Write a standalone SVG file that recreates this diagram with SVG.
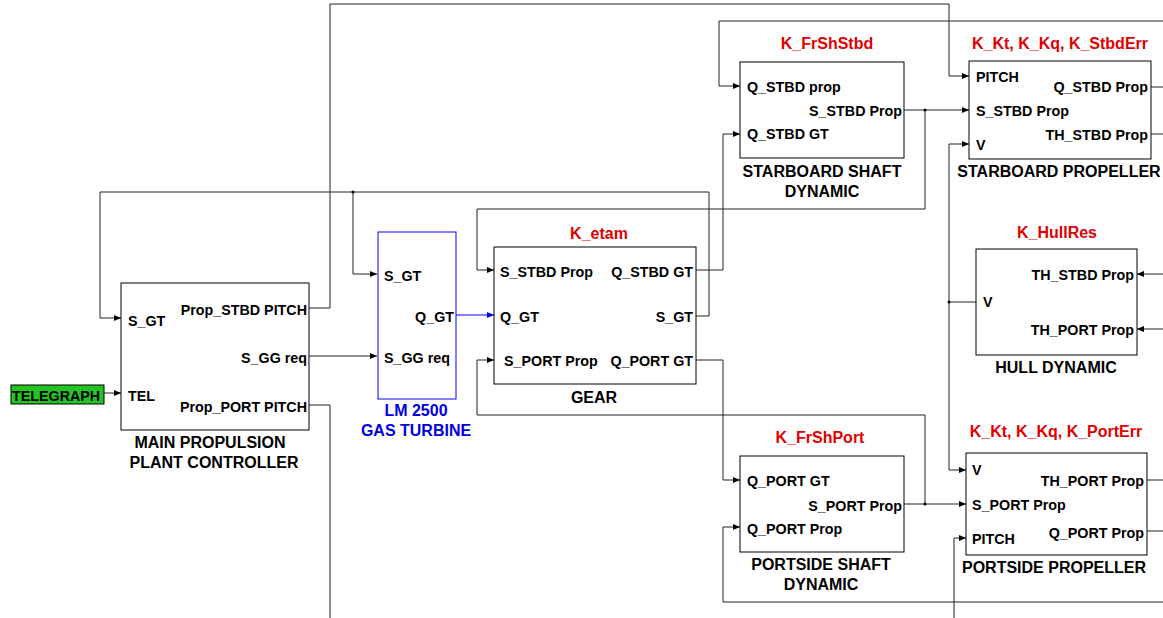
<svg xmlns="http://www.w3.org/2000/svg" width="1163" height="618" viewBox="0 0 1163 618">
<style>
text{font-family:"Liberation Sans",Arial,sans-serif;font-weight:bold;fill:#000}
.p{font-size:14.3px}
.r{text-anchor:end}
.t{font-size:16px;text-anchor:middle}
.k{font-size:16px;text-anchor:middle;fill:#e00000}
.b{fill:#0000e0}
.box{fill:#fff;stroke:#000;stroke-width:1}
.w{fill:none;stroke:#222;stroke-width:1}
</style>
<defs>
<marker id="a" markerUnits="userSpaceOnUse" markerWidth="7" markerHeight="6" refX="7" refY="3" orient="auto"><path d="M0,0 L7,3 L0,6 z" fill="#000"/></marker>
<marker id="ab" markerUnits="userSpaceOnUse" markerWidth="7" markerHeight="6" refX="7" refY="3" orient="auto"><path d="M0,0 L7,3 L0,6 z" fill="#00f"/></marker>
</defs>
<g id="connectors">
<path class="w" d="M309,308 H330 V4 H949 V76 H969" marker-end="url(#a)"/>
<path class="w" d="M1163,21 H719 V86 H740" marker-end="url(#a)"/>
<path class="w" d="M309,405 H330 V618"/>
<path class="w" d="M954,618 V538 H966" marker-end="url(#a)"/>
<path class="w" d="M309,356 H377" marker-end="url(#a)"/>
<path class="w" d="M696,316 H709 V192 H100 V318 H121" marker-end="url(#a)"/>
<path class="w" d="M353,192 V274 H377" marker-end="url(#a)"/>
<circle cx="353" cy="192" r="1.5" fill="#000"/>
<path fill="none" stroke="#00f" stroke-width="1" d="M456,315 H494" marker-end="url(#ab)"/>
<path class="w" d="M904,110 H969" marker-end="url(#a)"/>
<path class="w" d="M925,110 V209 H477 V270 H494" marker-end="url(#a)"/>
<circle cx="925" cy="110" r="1.5" fill="#000"/>
<path class="w" d="M696,270 H723 V134 H740" marker-end="url(#a)"/>
<path class="w" d="M696,360 H723 V480 H740" marker-end="url(#a)"/>
<path class="w" d="M904,504 H966" marker-end="url(#a)"/>
<path class="w" d="M925,504 V415 H477 V360 H494" marker-end="url(#a)"/>
<circle cx="925" cy="504" r="1.5" fill="#000"/>
<path class="w" d="M949,302 V144 H969" marker-end="url(#a)"/>
<path class="w" d="M949,302 V470 H966" marker-end="url(#a)"/>
<path class="w" d="M949,302 H976"/>
<circle cx="949" cy="302" r="1.5" fill="#000"/>
<path class="w" d="M1163,602 H723 V527 H740" marker-end="url(#a)"/>
<path class="w" d="M1163,274 H1137" marker-end="url(#a)"/>
<path class="w" d="M1163,329 H1137" marker-end="url(#a)"/>
<path class="w" d="M1151,87 H1163"/>
<path class="w" d="M1151,134 H1163"/>
<path class="w" d="M1147,480 H1163"/>
<path class="w" d="M1147,531 H1163"/>
<path class="w" d="M104,393 H121" marker-end="url(#a)"/>
</g>
<g id="telegraph">
<rect x="11" y="385" width="93" height="19" fill="#22c422" stroke="#000" stroke-width="1"/>
<text class="p" x="12" y="401">TELEGRAPH</text>
</g>
<g id="mppc">
<rect class="box" x="121" y="283" width="188" height="147"/>
<text class="p" x="128" y="326">S_GT</text>
<text class="p" x="128" y="401">TEL</text>
<text class="p r" x="307" y="315">Prop_STBD PITCH</text>
<text class="p r" x="307" y="363">S_GG req</text>
<text class="p r" x="307" y="412">Prop_PORT PITCH</text>
<text class="t" x="210" y="448">MAIN PROPULSION</text>
<text class="t" x="214" y="468">PLANT CONTROLLER</text>
</g>
<g id="lm2500">
<rect x="378" y="232" width="78" height="167" fill="#fff" stroke="#0000ff" stroke-width="1"/>
<text class="p" x="384" y="281">S_GT</text>
<text class="p r" x="454" y="322">Q_GT</text>
<text class="p" x="384" y="363">S_GG req</text>
<text class="t b" x="416" y="416">LM 2500</text>
<text class="t b" x="416" y="436">GAS TURBINE</text>
</g>
<g id="gear">
<rect class="box" x="494" y="247" width="202" height="137"/>
<text class="k" x="599" y="239">K_etam</text>
<text class="p" x="500" y="277">S_STBD Prop</text>
<text class="p" x="500" y="322">Q_GT</text>
<text class="p" x="504" y="366">S_PORT Prop</text>
<text class="p r" x="693" y="277">Q_STBD GT</text>
<text class="p r" x="693" y="322">S_GT</text>
<text class="p r" x="693" y="366">Q_PORT GT</text>
<text class="t" x="594" y="403">GEAR</text>
</g>
<g id="stbd-shaft">
<rect class="box" x="740" y="62" width="164" height="96"/>
<text class="k" x="827" y="49">K_FrShStbd</text>
<text class="p" x="747" y="92">Q_STBD prop</text>
<text class="p r" x="902" y="116">S_STBD Prop</text>
<text class="p" x="747" y="139">Q_STBD GT</text>
<text class="t" x="822" y="177">STARBOARD SHAFT</text>
<text class="t" x="822" y="197">DYNAMIC</text>
</g>
<g id="stbd-prop">
<rect class="box" x="969" y="61" width="182" height="98"/>
<text class="k" x="1060" y="49">K_Kt, K_Kq, K_StbdErr</text>
<text class="p" x="976" y="82">PITCH</text>
<text class="p" x="976" y="116">S_STBD Prop</text>
<text class="p" x="976" y="150">V</text>
<text class="p r" x="1148" y="92">Q_STBD Prop</text>
<text class="p r" x="1148" y="140">TH_STBD Prop</text>
<text class="t" x="1059" y="177">STARBOARD PROPELLER</text>
</g>
<g id="hull">
<rect class="box" x="976" y="249" width="161" height="106"/>
<text class="k" x="1057" y="238">K_HullRes</text>
<text class="p" x="983" y="307">V</text>
<text class="p r" x="1134" y="280">TH_STBD Prop</text>
<text class="p r" x="1134" y="335">TH_PORT Prop</text>
<text class="t" x="1056" y="373">HULL DYNAMIC</text>
</g>
<g id="port-shaft">
<rect class="box" x="740" y="456" width="164" height="96"/>
<text class="k" x="820" y="443">K_FrShPort</text>
<text class="p" x="747" y="486">Q_PORT GT</text>
<text class="p r" x="902" y="511">S_PORT Prop</text>
<text class="p" x="747" y="534">Q_PORT Prop</text>
<text class="t" x="821" y="570">PORTSIDE SHAFT</text>
<text class="t" x="821" y="590">DYNAMIC</text>
</g>
<g id="port-prop">
<rect class="box" x="966" y="453" width="181" height="102"/>
<text class="k" x="1056" y="437">K_Kt, K_Kq, K_PortErr</text>
<text class="p" x="972" y="475">V</text>
<text class="p" x="972" y="510">S_PORT Prop</text>
<text class="p" x="972" y="544">PITCH</text>
<text class="p r" x="1144" y="486">TH_PORT Prop</text>
<text class="p r" x="1144" y="538">Q_PORT Prop</text>
<text class="t" x="1054" y="573">PORTSIDE PROPELLER</text>
</g>
</svg>
